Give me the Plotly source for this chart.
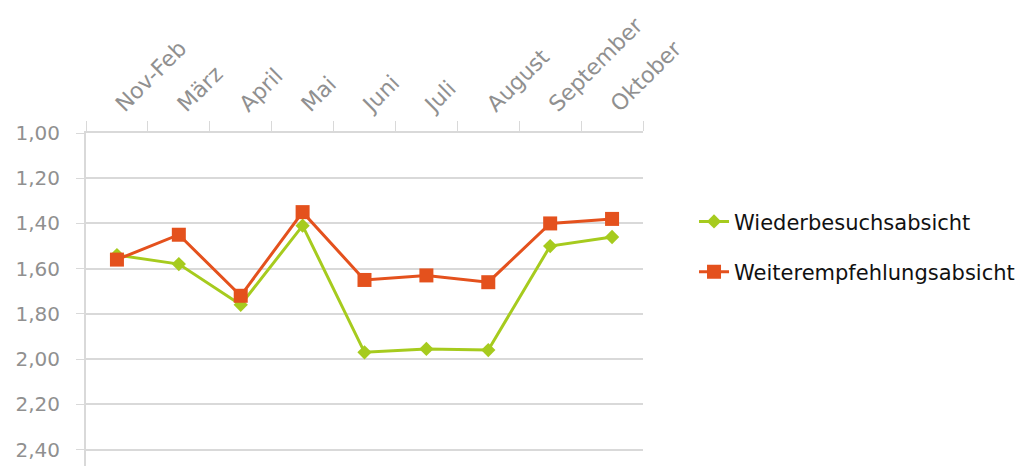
import plotly.graph_objects as go

months = ["Nov-Feb", "März", "April", "Mai", "Juni", "Juli", "August", "September", "Oktober"]
wiederbesuch = [1.54, 1.58, 1.76, 1.41, 1.97, 1.955, 1.96, 1.50, 1.46]
weiterempfehlung = [1.56, 1.45, 1.72, 1.35, 1.65, 1.63, 1.66, 1.40, 1.38]
y_ticks = [1.0, 1.2, 1.4, 1.6, 1.8, 2.0, 2.2, 2.4]

GREEN = "#a6cb1e"
ORANGE = "#e4511d"
GRID = "#d9d9d9"
LABEL = "#909090"

fig = go.Figure()
fig.add_trace(go.Scatter(
    x=months, y=wiederbesuch, name="Wiederbesuchsabsicht",
    mode="lines+markers", legendgroup="a",
    line=dict(color=GREEN, width=3),
    marker=dict(symbol="diamond", size=11, color=GREEN),
))
fig.add_trace(go.Scatter(
    x=months, y=weiterempfehlung, name="Weiterempfehlungsabsicht",
    mode="lines+markers", legendgroup="b",
    line=dict(color=ORANGE, width=3),
    marker=dict(symbol="square", size=14, color=ORANGE),
))

fig.update_layout(
    width=1024, height=466,
    margin=dict(l=86, r=381, t=133, b=0),
    paper_bgcolor="white", plot_bgcolor="white",
    separators=",.",
    font=dict(family="DejaVu Sans", size=19, color=LABEL),
    legend=dict(
        x=1.0916, y=0.795, xanchor="left", yanchor="top",
        traceorder="grouped", tracegroupgap=20,
        font=dict(family="DejaVu Sans", size=21, color="#111111"),
        itemwidth=30,
    ),
    xaxis=dict(
        type="category", side="top", range=[-0.5, 8.5],
        tickangle=-45, tickson="boundaries", ticks="outside",
        ticklen=10, tickcolor=GRID, showgrid=False,
        ticklabelstandoff=6,
        showline=True, linecolor=GRID, linewidth=2,
        tickfont=dict(size=22, color=LABEL),
    ),
    yaxis=dict(
        range=[2.473, 1.0], tickvals=y_ticks, tickformat=".2f",
        ticks="outside", ticklen=8, tickcolor=GRID,
        ticklabelstandoff=12,
        showgrid=True, gridcolor=GRID, gridwidth=2,
        showline=True, linecolor=GRID, linewidth=2,
        zeroline=False, tickfont=dict(size=20, color=LABEL),
    ),
)

fig.write_html("out.html")
